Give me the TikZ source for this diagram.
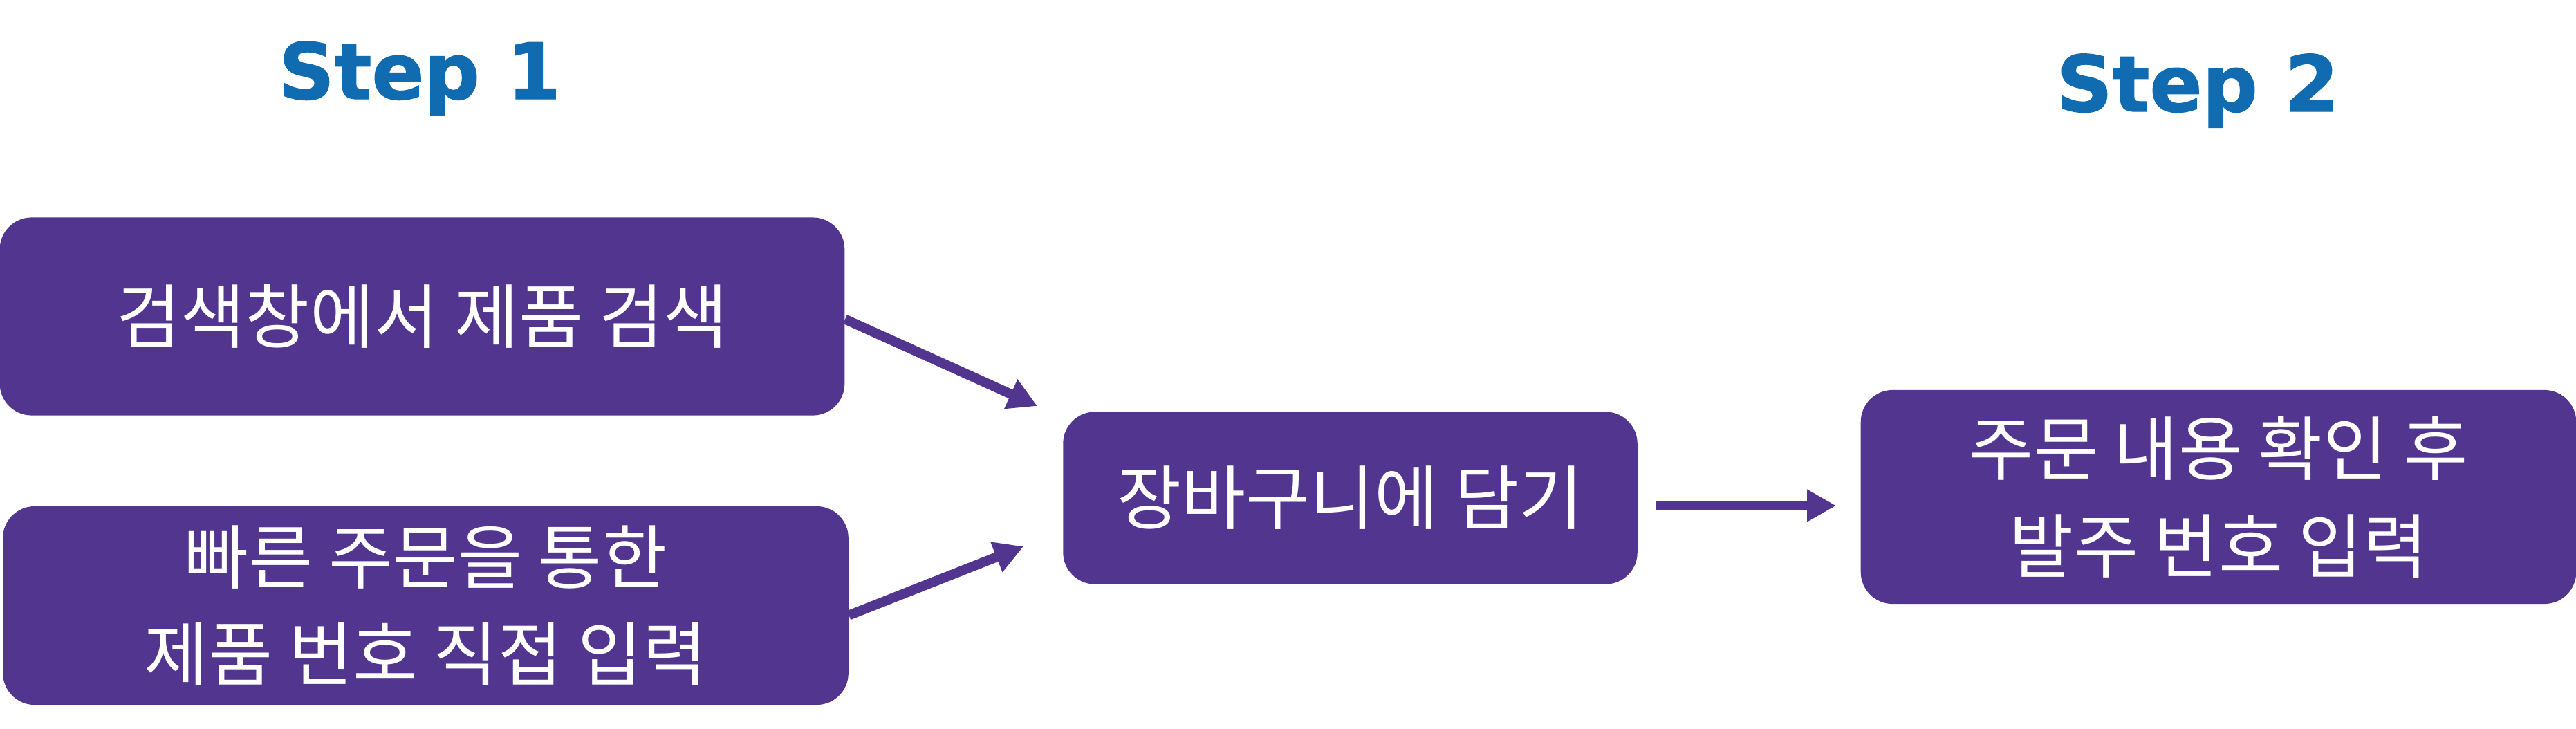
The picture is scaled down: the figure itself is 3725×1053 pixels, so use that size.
\documentclass[tikz,border=0pt]{standalone}
\usepackage{fontspec}
\setmainfont{DejaVu Sans}
\newfontfamily\kr{Noto Sans CJK KR}
\newfontfamily\stepfont[FakeBold=1.2]{DejaVu Sans Bold}
\usetikzlibrary{arrows.meta}
\definecolor{boxpurple}{HTML}{51358F}
\definecolor{stepblue}{HTML}{106BB0}
\tikzset{
  stepbox/.style={draw=none, fill=boxpurple, rounded corners=0.46cm, inner sep=0pt,
    text=white, align=center, font=\kr\fontsize{28.8}{40}\selectfont},
  steplabel/.style={text=stepblue, inner sep=0pt, anchor=base, font=\stepfont\fontsize{31.9}{38}\selectfont},
  flow/.style={draw=boxpurple, line width=0.14cm, -{Triangle[length=0.42cm,width=0.44cm]}}
}
\begin{document}
\begin{tikzpicture}[x=0.01cm,y=-0.01cm]
\useasboundingbox (0,0) rectangle (3725,1053);
\node[steplabel] (s1) at (607,143) {Step 1};
\node[steplabel] (s2) at (3178,161) {Step 2};
\node[stepbox, minimum width=12.21cm, minimum height=2.86cm] (b1) at (610.5,457.5) {검색창에서 제품 검색};
\node[stepbox, minimum width=12.22cm, minimum height=2.87cm] (b2) at (615.5,875.5) {빠른 주문을 통한\\제품 번호 직접 입력};
\node[stepbox, minimum width=8.30cm, minimum height=2.49cm] (b3) at (1952.5,720) {장바구니에 담기};
\node[stepbox, minimum width=10.34cm, minimum height=3.09cm] (b4) at (3208,718.5) {주문 내용 확인 후\\발주 번호 입력};
\coordinate (t1) at (1500,587);
\coordinate (t2) at (1480,790);
\coordinate (s3) at (2394,731);
\coordinate (t3) at (2655,731);
\draw[flow] (b1.east) ++(0,4) -- (t1);
\draw[flow] (b2.east) ++(0,14) -- (t2);
\draw[flow] (s3) -- (t3);
\end{tikzpicture}
\end{document}
